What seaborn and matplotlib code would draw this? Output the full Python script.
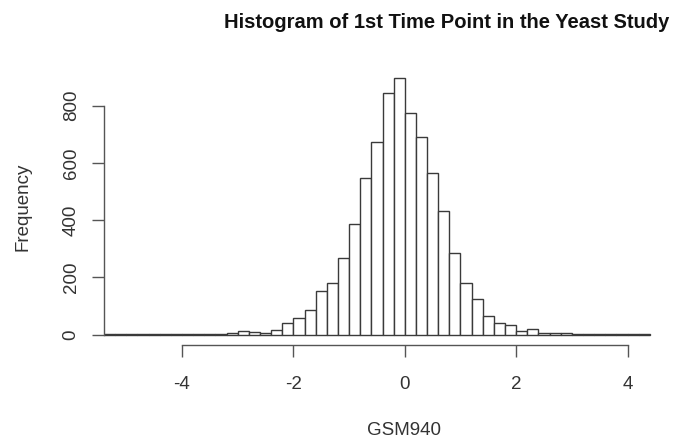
import numpy as np
import pandas as pd
import matplotlib
matplotlib.use("Agg")
import matplotlib.pyplot as plt
import seaborn as sns

# Histogram bins (width 0.2) from -5.4 to 4.4 and their counts
bin_edges = [round(-5.4 + 0.2 * i, 1) for i in range(50)]
counts = [1, 1, 1, 1, 1, 1, 1, 2, 2, 3, 3, 5,
          11, 8, 7, 15, 40, 59, 84, 151, 181, 269, 388, 547, 672, 843, 897,
          775, 691, 564, 431, 285, 181, 125, 64, 39, 33, 12, 19, 7, 5, 4,
          3, 3, 2, 2, 1, 1, 1]
x_ticks = [-4, -2, 0, 2, 4]
y_ticks = [0, 200, 400, 600, 800]
title = "Histogram of 1st Time Point in the Yeast Study"
x_label = "GSM940"
y_label = "Frequency"

centers = [(a + b) / 2 for a, b in zip(bin_edges[:-1], bin_edges[1:])]
df = pd.DataFrame({"value": centers, "count": counts})

sns.set_style("white")
plt.rcParams["font.family"] = ["Liberation Sans", "DejaVu Sans"]

W, H = 673, 440
fig = plt.figure(figsize=(W / 100, H / 100), dpi=100)
ax_left, ax_right = 104, 661
ax_top, ax_bottom = 67.7, 344.8
ax = fig.add_axes([ax_left / W, 1 - ax_bottom / H,
                   (ax_right - ax_left) / W, (ax_bottom - ax_top) / H])

sns.histplot(data=df, x="value", weights="count", bins=bin_edges,
             color="white", edgecolor="#3a3a3a", linewidth=1.0, alpha=1,
             ax=ax)

ax.set_xlim(-5.4, -5.4 + (ax_right - ax_left) / 55.7)
ax.set_ylim(-36, 933)
ax.set_xticks(x_ticks)
ax.set_yticks(y_ticks)
ax.set_xticklabels([f"{t}" for t in x_ticks])
ax.set_yticklabels([str(t) for t in y_ticks], rotation=90, va="center")
ax.set_xlabel("")
ax.set_ylabel("")

for s in ["top", "right"]:
    ax.spines[s].set_visible(False)
ax.spines["left"].set_bounds(0, 800)
ax.spines["bottom"].set_bounds(-4, 4)
for s in ["left", "bottom"]:
    ax.spines[s].set_color("#555555")
    ax.spines[s].set_linewidth(1.0)

ax.tick_params(axis="both", direction="out", length=8.5, width=1.0,
               color="#555555", labelsize=13.5, labelcolor="#333333",
               bottom=True, left=True)
ax.tick_params(axis="x", pad=14)
ax.tick_params(axis="y", pad=9)
ax.grid(False)

fig.text(447 / W, 1 - 22 / H, title, ha="center", va="center",
         fontsize=14.5, fontweight="bold", color="#111111")
fig.text(404 / W, 1 - 430 / H, x_label, ha="center", va="center",
         fontsize=13.5, color="#333333")
fig.text(23 / W, 1 - 207 / H, y_label, ha="center", va="center",
         rotation=90, fontsize=13.5, color="#333333")

fig.savefig("out.png", dpi=100)
